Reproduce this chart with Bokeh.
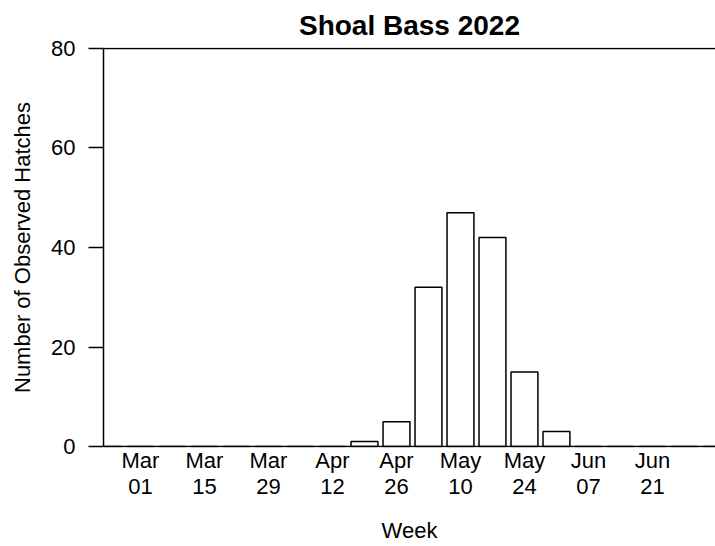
from bokeh.plotting import figure
from bokeh.models import Range1d, FixedTicker, Span
from bokeh.embed import file_html
from bokeh.resources import INLINE

# ---- data ----
weeks = ["Feb 22", "Mar 01", "Mar 08", "Mar 15", "Mar 22", "Mar 29", "Apr 05",
         "Apr 12", "Apr 19", "Apr 26", "May 03", "May 10", "May 17", "May 24",
         "May 31", "Jun 07", "Jun 14", "Jun 21", "Jun 28", "Jul 05"]
hatches = [0, 0, 0, 0, 0, 0, 0, 0, 1, 5, 32, 47, 42, 15, 3, 0, 0, 0, 0, 0]
tick_weeks = ["Mar 01", "Mar 15", "Mar 29", "Apr 12", "Apr 26", "May 10",
              "May 24", "Jun 07", "Jun 21"]
y_ticks = [0, 20, 40, 60, 80]

FONT = "Liberation Sans"
x = list(range(len(weeks)))

p = figure(width=715, height=546, output_backend="svg", toolbar_location=None,
           x_range=Range1d(-0.156, 18.97), y_range=Range1d(-0.2, 80.2),
           min_border_left=103, min_border_right=0, min_border_top=43,
           min_border_bottom=99, title="Shoal Bass 2022")

p.vbar(x=x, top=hatches, bottom=0, width=0.84, fill_color="white",
       line_color="black", line_width=1.5)

for loc in (y_ticks[0], y_ticks[-1]):
    p.add_layout(Span(location=loc, dimension="width", line_color="black",
                      line_width=1.5))

p.xgrid.visible = False
p.ygrid.visible = False
p.outline_line_color = None
p.background_fill_color = "white"
p.border_fill_color = "white"

# title
p.title.text_font = FONT
p.title.text_font_size = "28px"
p.title.text_font_style = "bold"
p.title.text_color = "black"
p.title.align = "center"
p.title.standoff = 14

# y axis
ya = p.yaxis[0]
ya.ticker = FixedTicker(ticks=y_ticks)
ya.bounds = (y_ticks[0], y_ticks[-1])
ya.axis_line_width = 1.5
ya.axis_line_color = "black"
ya.major_tick_line_width = 1.5
ya.major_tick_line_color = "black"
ya.major_tick_out = 15
ya.major_tick_in = 0
ya.minor_tick_line_color = None
ya.major_label_standoff = 13
ya.major_label_text_font = FONT
ya.major_label_text_font_size = "22px"
ya.major_label_text_color = "black"
ya.axis_label = "Number of Observed Hatches"
ya.axis_label_text_font = FONT
ya.axis_label_text_font_size = "22px"
ya.axis_label_text_font_style = "normal"
ya.axis_label_text_color = "black"
ya.axis_label_standoff = 13

# x axis
xa = p.xaxis[0]
tick_pos = [weeks.index(w) for w in tick_weeks]
xa.ticker = FixedTicker(ticks=tick_pos)
xa.major_label_overrides = {i: w.replace(" ", "\n") for i, w in zip(tick_pos, tick_weeks)}
xa.axis_line_color = None
xa.major_tick_line_color = None
xa.minor_tick_line_color = None
xa.major_tick_out = 0
xa.major_tick_in = 0
xa.major_label_standoff = 0
xa.major_label_text_font = FONT
xa.major_label_text_font_size = "22px"
xa.major_label_text_line_height = 1.07
xa.major_label_text_color = "black"
xa.axis_label = "Week"
xa.axis_label_text_font = FONT
xa.axis_label_text_font_size = "22px"
xa.axis_label_text_line_height = 1.0
xa.axis_label_text_font_style = "normal"
xa.axis_label_text_color = "black"
xa.axis_label_standoff = 16

open("out.html", "w").write(file_html(p, INLINE))
